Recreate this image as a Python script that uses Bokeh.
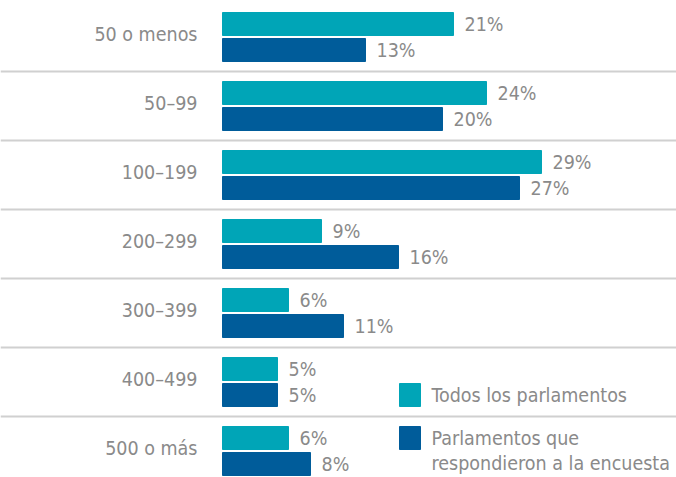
from bokeh.plotting import figure
from bokeh.models import Range1d, Span, ColumnDataSource
from bokeh.core.properties import value
from bokeh.embed import file_html
from bokeh.resources import INLINE

categories = ["50 o menos", "50\u201399", "100\u2013199", "200\u2013299", "300\u2013399", "400\u2013499", "500 o más"]
todos = [21, 24, 29, 9, 6, 5, 6]
encuesta = [13, 20, 27, 16, 11, 5, 8]
series_names = ["Todos los parlamentos", "Parlamentos que\nrespondieron a la encuesta"]

TEAL = "#00a5b7"
BLUE = "#005c9a"
GRAY = "#8a8a8a"
FONT = value("DejaVu Sans Condensed")
FS = "19.5px"

W, H = 676, 477
PX_X = 11.0      # px per %
X0_PX = 222      # px where 0% sits
PX_Y = 69.0      # px per group
TOP_PX = 36.5    # px of first group center

x_range = Range1d(-X0_PX / PX_X, (W - X0_PX) / PX_X)
y_top = -TOP_PX / PX_Y
y_range = Range1d(y_top + H / PX_Y, y_top)

p = figure(width=W, height=H, x_range=x_range, y_range=y_range,
           output_backend="svg", toolbar_location=None, min_border=0)
p.axis.visible = False
p.grid.visible = False
p.outline_line_color = None
p.background_fill_color = "white"

off = 13 / PX_Y
bh = 23 / PX_Y
idx = list(range(len(categories)))
src = ColumnDataSource(dict(
    cat=categories, idx=idx,
    y1=[i - off for i in idx], y2=[i + off for i in idx],
    v1=todos, v2=encuesta,
    l1=[f"{v}%" for v in todos], l2=[f"{v}%" for v in encuesta],
))

for i in range(len(categories) - 1):
    p.add_layout(Span(location=i + 0.5, dimension="width", line_color="#d0d0d0", line_width=2))

p.hbar(y="y1", left=0, right="v1", height=bh, color=TEAL, source=src)
p.hbar(y="y2", left=0, right="v2", height=bh, color=BLUE, source=src)

p.text(x="v1", y="y1", text="l1", x_offset=11, text_align="left", text_baseline="middle",
       text_font=FONT, text_font_size=FS, text_color=GRAY, source=src)
p.text(x="v2", y="y2", text="l2", x_offset=11, text_align="left", text_baseline="middle",
       text_font=FONT, text_font_size=FS, text_color=GRAY, source=src)
p.text(x=0, y="idx", text="cat", x_offset=-25, y_offset=-3, text_align="right", text_baseline="middle",
       text_font=FONT, text_font_size=FS, text_color=GRAY, source=src)

# legend
n = len(categories)
lx = (399 + 10.5 - X0_PX) / PX_X
ly1 = (n - 2) + off
ly2 = (n - 1) - off
p.rect(x=[lx, lx], y=[ly1, ly2], width=21 / PX_X, height=bh, color=[TEAL, BLUE])
tx = (431 - X0_PX) / PX_X
lines = [series_names[0]] + series_names[1].split("\n")
p.text(x=[tx, tx, tx], y=[ly1, ly2, ly2 + 25 / PX_Y], text=lines,
       text_align="left", text_baseline="middle",
       text_font=FONT, text_font_size=FS, text_color=GRAY)

open("out.html", "w").write(file_html(p, INLINE))
